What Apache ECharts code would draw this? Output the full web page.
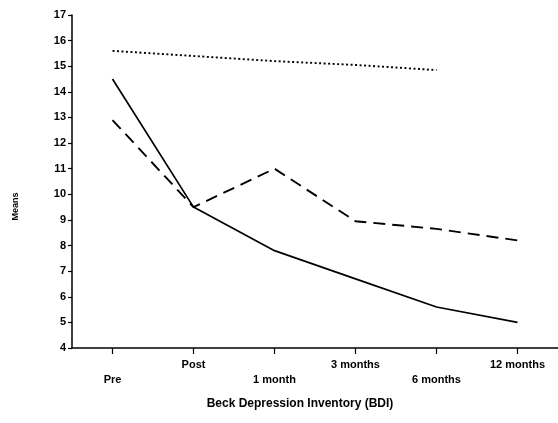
<!DOCTYPE html>
<html>
<head>
<meta charset="utf-8">
<script src="https://cdn.jsdelivr.net/npm/echarts@6/dist/echarts.min.js"></script>
<style>html,body{margin:0;padding:0;background:#fff}#c{width:558px;height:423px}</style>
</head>
<body>
<div id="c"></div>
<script>
var categories = ['Pre', 'Post', '1 month', '3 months', '6 months', '12 months'];
var solidValues = [14.5, 9.5, 7.8, 6.7, 5.6, 5.0];
var dashedValues = [12.9, 9.5, 11.0, 8.95, 8.65, 8.2];
var dottedValues = [15.6, 15.4, 15.2, 15.05, 14.85, null];
var yTicks = [4, 5, 6, 7, 8, 9, 10, 11, 12, 13, 14, 15, 16, 17];

var chart = echarts.init(document.getElementById('c'));
var font = 'Liberation Sans, Arial, sans-serif';
chart.setOption({
  animation: false,
  backgroundColor: '#fff',
  grid: { left: 72, top: 15, width: 491, bottom: 75, containLabel: false },
  xAxis: {
    type: 'category',
    data: categories,
    boundaryGap: true,
    name: 'Beck Depression Inventory (BDI)',
    nameLocation: 'middle',
    nameGap: 50,
    nameTextStyle: { fontFamily: font, fontWeight: 'bold', fontSize: 12, color: '#000', padding: [0, 30, 0, 0] },
    axisLine: { lineStyle: { color: '#000', width: 1.5 } },
    axisTick: { show: true, interval: 0, alignWithLabel: true, length: 6, lineStyle: { color: '#000', width: 1.2 } },
    axisLabel: {
      interval: 0,
      margin: 9,
      color: '#000',
      fontFamily: font,
      fontWeight: 'bold',
      fontSize: 11,
      lineHeight: 15,
      formatter: function (v, i) { return i % 2 === 0 ? '\n' + v : v; }
    },
    splitLine: { show: false }
  },
  yAxis: {
    type: 'value',
    min: yTicks[0],
    max: yTicks[yTicks.length - 1],
    interval: 1,
    name: 'Means',
    nameLocation: 'middle',
    nameRotate: 90,
    nameGap: 52,
    nameTextStyle: { fontFamily: font, fontWeight: 'bold', fontSize: 9, color: '#000', padding: [0, 50, 0, 0] },
    axisLine: { show: true, lineStyle: { color: '#000', width: 1.5 } },
    axisTick: { show: true, length: 4, lineStyle: { color: '#000', width: 1.2 } },
    axisLabel: { color: '#000', fontFamily: font, fontWeight: 'bold', fontSize: 11, margin: 6 },
    splitLine: { show: false }
  },
  series: [
    { name: 'Solid', type: 'line', data: solidValues, symbol: 'none',
      lineStyle: { color: '#000', width: 1.7, type: 'solid' } },
    { name: 'Dashed', type: 'line', data: dashedValues, symbol: 'none',
      lineStyle: { color: '#000', width: 1.9, type: [12, 7] } },
    { name: 'Dotted', type: 'line', data: dottedValues, symbol: 'none',
      lineStyle: { color: '#000', width: 1.9, type: [2, 2.5] } }
  ]
});
</script>
</body>
</html>
